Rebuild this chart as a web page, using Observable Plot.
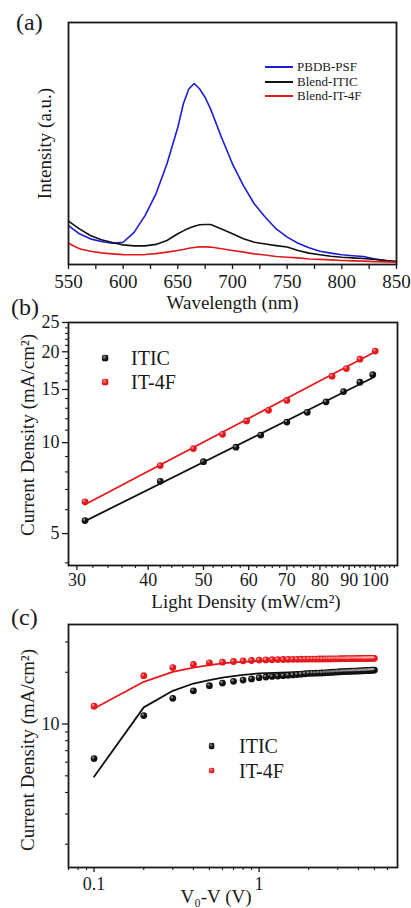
<!DOCTYPE html>
<html>
<head>
<meta charset="utf-8">
<script src="https://cdn.jsdelivr.net/npm/d3@7"></script>
<script src="https://cdn.jsdelivr.net/npm/@observablehq/plot@0.6"></script>
<style>
  html, body { margin: 0; padding: 0; background: #ffffff; }
  #wrap { position: relative; width: 411px; height: 908px; overflow: hidden; background: #fff;
          font-family: "Liberation Serif", "Times New Roman", serif; color: #1a1a1a; }
  .plbl { position: absolute; font-size: 24px; line-height: 1; white-space: nowrap; }
  .leg { position: absolute; line-height: 1; white-space: nowrap; transform: translateY(-50%); }
  .legline { position: absolute; height: 2px; transform: translateY(-50%); }
  .legdot { position: absolute; border-radius: 50%; transform: translate(-50%, -50%); }
</style>
</head>
<body>
<div id="wrap"></div>
<script>
// ---------------- Panel (a): PL spectra ----------------
const wavelength = [550,560,570,580,590,600,610,620,630,640,650,655,660,665,670,675,680,690,700,710,720,730,740,750,760,770,780,790,800,810,820,830,840,850];
const pbdbPsf   = [16.1,12.7,10.6,9.5,8.8,9.2,13.3,20.2,29.2,41.5,56.7,66.3,72.5,74.8,72.5,69.0,64.2,52.5,41.5,32.6,25.0,19.5,14.7,11.3,8.8,6.9,5.5,4.7,4.0,3.6,3.3,2.3,1.65,1.2];
const blendITIC = [17.9,14.7,12.0,10.2,9.1,8.1,7.7,7.7,8.3,9.9,12.7,13.9,15.0,15.8,16.4,16.5,16.5,14.7,12.7,10.6,9.2,8.5,7.8,7.2,5.8,4.7,4.0,3.4,3.0,2.75,2.5,2.1,1.65,1.2];
const blendIT4F = [8.8,6.5,5.5,4.8,4.4,4.1,4.0,4.1,4.5,5.1,5.8,6.2,6.7,7.0,7.3,7.3,7.2,6.5,5.8,5.1,4.4,3.9,3.3,3.0,2.75,2.3,2.1,1.9,1.65,1.5,1.4,1.2,1.1,1.0];
const seriesA = ["PBDB-PSF", "Blend-ITIC", "Blend-IT-4F"];
const aTicks = [550,575,600,625,650,675,700,725,750,775,800,825,850];
const aTickLabels = [550,600,650,700,750,800,850];

// ---------------- Panel (b): J vs light intensity ----------------
const lightITIC = [31,42,50,57,63,70,76,82,88,94,99];
const jITIC     = [5.52,7.45,8.65,9.66,10.6,11.7,12.6,13.65,14.76,15.85,16.8];
const lightIT4F = [31,42,48,54,59.5,65,70,84,89,94,100];
const jIT4F     = [6.37,8.4,9.56,10.66,11.8,12.8,13.8,16.6,17.6,18.9,20.1];
const fitLightITIC = [31, 99];
const fitJITIC     = [5.5, 16.4];
const fitLightIT4F = [31, 100];
const fitJIT4F     = [6.24, 20.0];
const seriesB = ["ITIC", "IT-4F"];
const bxMajor = [30,40,50,60,70,80,90,100];
const bxMinor = [32,34,36,38,42,44,46,48,52,54,56,58,62,64,66,68,72,74,76,78,82,84,86,88,92,94,96,98,102,104,106,108];
const byMajor = [5,10,15,20,25];
const byMinor = [4,6,7,8,9,11,12,13,14,16,17,18,19,21,22,23,24];

// ---------------- Panel (c): J vs effective voltage ----------------
const voltage = [0.1,0.2,0.3,0.4,0.5,0.6,0.7,0.8,0.9,1.0,1.1,1.2,1.3,1.4,1.5,1.6,1.7,1.8,1.9,2.0,2.1,2.2,2.3,2.4,2.5,2.6,2.7,2.8,2.9,3.0,3.1,3.2,3.3,3.4,3.5,3.6,3.7,3.8,3.9,4.0,4.1,4.2,4.3,4.4,4.5,4.6,4.7,4.8,4.9,5.0];
const jcITIC = [6.3,11.2,14.1,15.6,16.7,17.3,17.7,18.0,18.3,18.6,18.75,18.9,19.0,19.1,19.2,19.3,19.4,19.5,19.6,19.7,19.72,19.75,19.78,19.8,19.85,19.9,19.95,20.0,20.05,20.1,20.13,20.16,20.19,20.22,20.25,20.27,20.29,20.31,20.33,20.35,20.37,20.39,20.41,20.43,20.45,20.48,20.51,20.54,20.57,20.6];
const jcIT4F = [12.7,19.1,21.3,22.2,22.7,22.9,23.1,23.3,23.4,23.55,23.6,23.65,23.7,23.72,23.75,23.77,23.79,23.81,23.83,23.85,23.86,23.87,23.88,23.89,23.9,23.91,23.92,23.93,23.94,23.95,23.96,23.97,23.98,23.99,24.0,24.01,24.02,24.03,24.04,24.05,24.06,24.06,24.07,24.07,24.08,24.08,24.09,24.09,24.1,24.1];
const fitV       = [0.1,0.2,0.3,0.4,0.5,0.6,0.7,0.8,0.9,1.0,1.5,2,3,4,5];
const fitcITIC   = [4.94,12.5,15.6,17.2,18.0,18.6,19.0,19.3,19.5,19.7,19.95,20.1,20.3,20.45,20.6];
const fitcIT4F   = [12.3,17.6,20.1,21.3,22.0,22.5,22.8,23.0,23.15,23.25,23.6,23.8,23.95,24.05,24.1];
const cxMajor = [0.1, 1];
const cxMinor = [0.07,0.08,0.09,0.2,0.3,0.4,0.5,0.6,0.7,0.8,0.9,2,3,4,5,6];
const cyMajor = [10];
const cyMinor = [2,3,4,5,6,7,8,9,20,30];

// ---------------- Styling ----------------
const FONT = '"Liberation Serif", "Times New Roman", serif';
const INK = "#1a1a1a";
const BLUE = "#1c1cd8", RED = "#e3191c", BLACK = "#111111";
const wrap = document.getElementById("wrap");

function place(node, top) {
  node.style.position = "absolute";
  node.style.left = "0px";
  node.style.top = top + "px";
  wrap.appendChild(node);
}
function styleFor(fs) {
  return {fontFamily: FONT, fontSize: fs + "px", background: "transparent", color: INK, overflow: "visible"};
}
const zip = (xs, ys) => xs.map((x, i) => ({x, y: ys[i]}));
const fmt = d => String(d);

function dotMarks(rows, color) {
  return [
    Plot.dot(rows, {x: "x", y: "y", r: 3.4, fill: color}),
    Plot.dot(rows, {x: "x", y: "y", r: 1.3, fill: "white", fillOpacity: 0.45, dx: -1, dy: -1})
  ];
}
function yTitle(t, dx, dy) {
  return Plot.text([t], {text: d => d, frameAnchor: "left", rotate: -90, dx, dy, textAnchor: "middle", lineAnchor: "middle", fontSize: 19, fill: INK});
}
function xTitle(t, dx, dy) {
  return Plot.text([t], {text: d => d, frameAnchor: "bottom", dx, dy, textAnchor: "middle", lineAnchor: "middle", fontSize: 19, fill: INK});
}

// ---- (a)
const colorsA = [BLUE, BLACK, RED];
const valuesA = [pbdbPsf, blendITIC, blendIT4F];
const plotA = Plot.plot({
  width: 411, height: 312,
  marginTop: 22, marginBottom: 48, marginLeft: 68, marginRight: 15,
  style: styleFor(19),
  x: {domain: [550, 850]},
  y: {domain: [0, 100], axis: null},
  marks: [
    Plot.axisX({ticks: aTicks, tickFormat: d => aTickLabels.includes(d) ? String(d) : "", tickSize: 5, tickPadding: 5, label: null, strokeWidth: 1.3, fontSize: 19}),
    ...valuesA.map((vals, k) => Plot.line(zip(wavelength, vals), {x: "x", y: "y", stroke: colorsA[k], strokeWidth: 1.6})),
    Plot.frame({stroke: INK, strokeWidth: 1.8}),
    xTitle("Wavelength (nm)", 0, 38),
    yTitle("Intensity (a.u.)", -24, 0)
  ]
});
place(plotA, 0);

// ---- (b)
const plotB = Plot.plot({
  width: 411, height: 300,
  marginTop: 10, marginBottom: 47, marginLeft: 68, marginRight: 14,
  style: styleFor(18),
  x: {type: "log", domain: [29, 109.4]},
  y: {type: "log", domain: [3.92, 25]},
  marks: [
    Plot.axisX({ticks: bxMajor, tickFormat: fmt, tickSize: 5, tickPadding: 3, label: null, strokeWidth: 1.3, fontSize: 18}),
    Plot.axisX({ticks: bxMinor, tickFormat: () => "", tickSize: 3, label: null, strokeWidth: 1.1}),
    Plot.axisY({ticks: byMajor, tickFormat: fmt, tickSize: 6, tickPadding: 3, label: null, strokeWidth: 1.3, fontSize: 18}),
    Plot.axisY({ticks: byMinor, tickFormat: () => "", tickSize: 3, label: null, strokeWidth: 1.1}),
    Plot.line(zip(fitLightITIC, fitJITIC), {x: "x", y: "y", stroke: BLACK, strokeWidth: 1.8}),
    Plot.line(zip(fitLightIT4F, fitJIT4F), {x: "x", y: "y", stroke: RED, strokeWidth: 1.8}),
    ...dotMarks(zip(lightITIC, jITIC), BLACK),
    ...dotMarks(zip(lightIT4F, jIT4F), RED),
    Plot.frame({stroke: INK, strokeWidth: 1.8}),
    xTitle("Light Density (mW/cm²)", 13, 36),
    yTitle("Current Density (mA/cm²)", -41, -9)
  ]
});
place(plotB, 312);

// ---- (c)
const plotC = Plot.plot({
  width: 411, height: 296,
  marginTop: 12, marginBottom: 41, marginLeft: 68, marginRight: 14,
  style: styleFor(18),
  x: {type: "log", domain: [0.07, 6.9]},
  y: {type: "log", domain: [1.465, 37.9]},
  marks: [
    Plot.axisX({ticks: cxMajor, tickFormat: fmt, tickSize: 5, tickPadding: 5, label: null, strokeWidth: 1.3, fontSize: 18}),
    Plot.axisX({ticks: cxMinor, tickFormat: () => "", tickSize: 3, label: null, strokeWidth: 1.1}),
    Plot.axisY({ticks: cyMajor, tickFormat: fmt, tickSize: 6, tickPadding: 3, label: null, strokeWidth: 1.3, fontSize: 18}),
    Plot.axisY({ticks: cyMinor, tickFormat: () => "", tickSize: 3, label: null, strokeWidth: 1.1}),
    Plot.line(zip(fitV, fitcITIC), {x: "x", y: "y", stroke: BLACK, strokeWidth: 1.8}),
    Plot.line(zip(fitV, fitcIT4F), {x: "x", y: "y", stroke: RED, strokeWidth: 1.8}),
    ...dotMarks(zip(voltage, jcITIC), BLACK),
    ...dotMarks(zip(voltage, jcIT4F), RED),
    Plot.frame({stroke: INK, strokeWidth: 1.8}),
    xTitle("V₀-V (V)", -17, 29),
    yTitle("Current Density (mA/cm²)", -41, 4)
  ]
});
place(plotC, 612);

// ---------------- Panel labels ----------------
const panelLabels = ["(a)", "(b)", "(c)"];
const panelLabelPos = [[16, 10], [11, 295], [11, 605]];
panelLabels.forEach((t, i) => {
  const d = document.createElement("div");
  d.className = "plbl";
  d.textContent = t;
  d.style.left = panelLabelPos[i][0] + "px";
  d.style.top = panelLabelPos[i][1] + "px";
  wrap.appendChild(d);
});

// ---------------- Legends ----------------
function legendText(text, x, y, fs, lh) {
  const d = document.createElement("div");
  d.className = "leg";
  d.textContent = text;
  d.style.left = x + "px"; d.style.top = y + "px"; d.style.fontSize = fs + "px";
  if (lh) d.style.lineHeight = lh;
  wrap.appendChild(d);
}
function legendLine(color, x, y, w) {
  const d = document.createElement("div");
  d.className = "legline";
  d.style.left = x + "px"; d.style.top = y + "px"; d.style.width = w + "px"; d.style.background = color;
  wrap.appendChild(d);
}
function legendDot(color, x, y, r) {
  const d = document.createElement("div");
  d.className = "legdot";
  d.style.left = x + "px"; d.style.top = y + "px";
  d.style.width = (2 * r) + "px"; d.style.height = (2 * r) + "px";
  d.style.background = `radial-gradient(circle at 38% 35%, rgba(255,255,255,0.5) 0, rgba(255,255,255,0) 45%), ${color}`;
  wrap.appendChild(d);
}
seriesA.forEach((name, i) => {
  const y = 67.2 + i * 14.6;
  legendLine(colorsA[i], 265, y, 28);
  legendText(name, 297, y, 13, "0.8");
});
const colorsB = [BLACK, RED];
seriesB.forEach((name, i) => {
  const y = 358.4 + i * 23.5;
  legendDot(colorsB[i], 105, y, 3.4);
  legendText(name, 131, y, 20);
});
seriesB.forEach((name, i) => {
  const y = 746 + i * 24.7;
  legendDot(colorsB[i], 211.7, y, 3.4);
  legendText(name, 239, y, 20);
});
</script>
</body>
</html>
